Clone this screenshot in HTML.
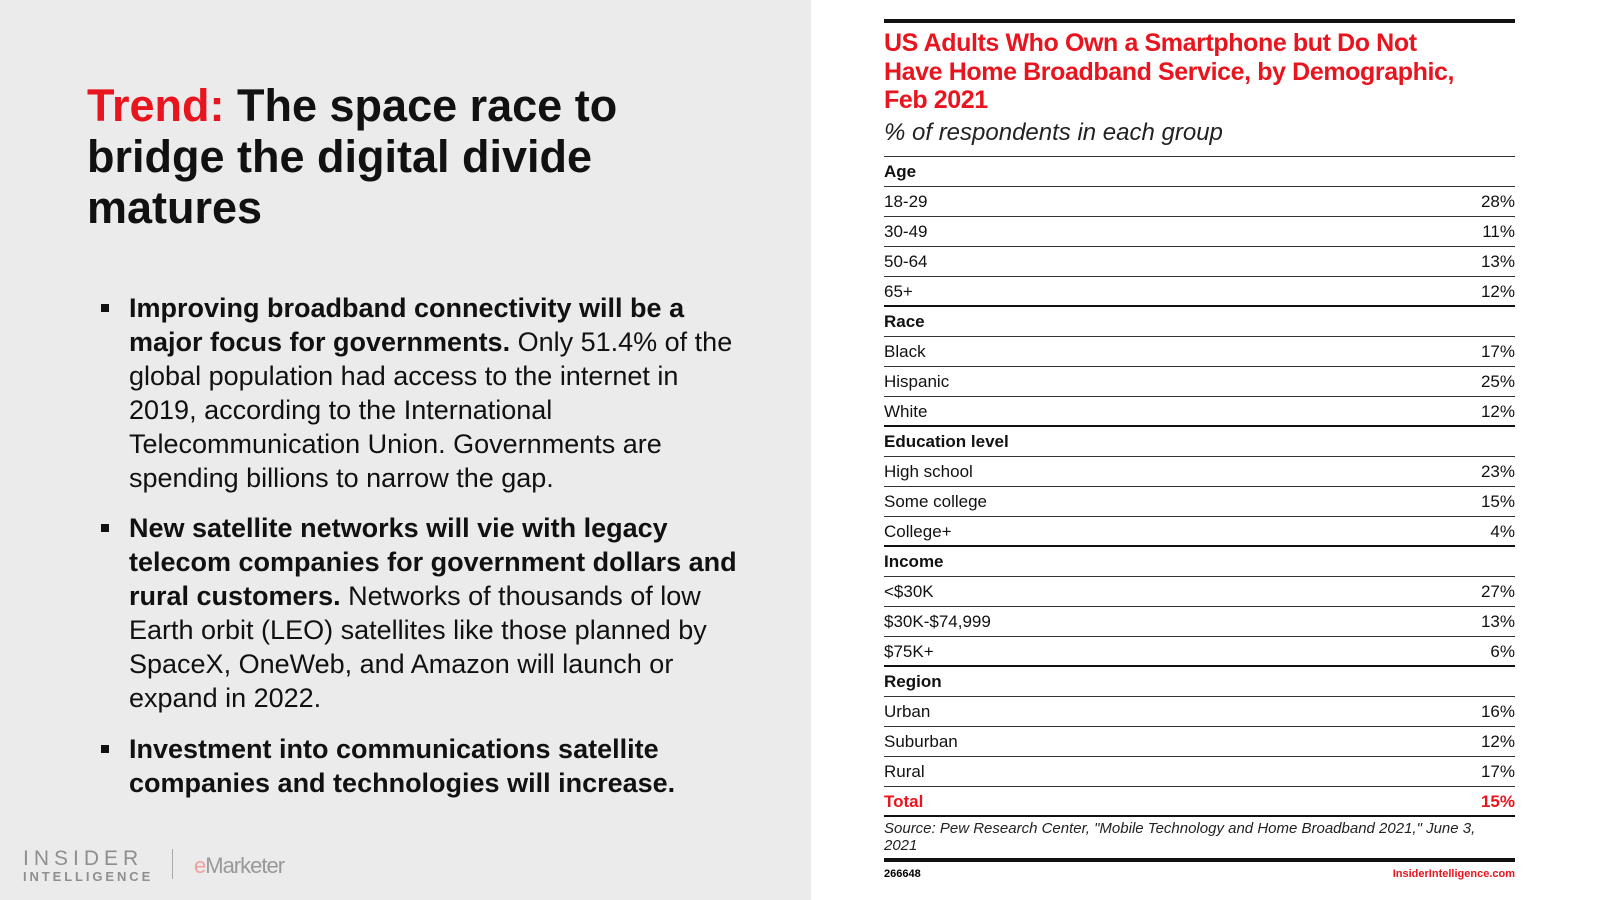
<!DOCTYPE html>
<html><head><meta charset="utf-8"><style>
*{margin:0;padding:0;box-sizing:border-box}
body{width:1600px;height:900px;position:relative;background:#fff;font-family:"Liberation Sans",sans-serif;overflow:hidden}
#left{position:absolute;left:0;top:0;width:811px;height:900px;background:#ebebeb}
h1{position:absolute;left:87px;top:80px;font-size:45px;line-height:51px;font-weight:bold;color:#111;width:650px}
h1 span{color:#e8141e}
.b{position:absolute;left:129px;width:700px;font-size:27px;line-height:34px;color:#111;white-space:nowrap}
.b:before{content:"";position:absolute;left:-28px;top:13px;width:8px;height:8px;background:#111}
.logo{position:absolute;left:23px;top:847px;color:#8f8f8f;font-size:21px;letter-spacing:5px}
.logo2{position:absolute;left:23px;top:869px;color:#8f8f8f;font-size:13px;letter-spacing:2.9px;font-weight:bold}
.sep{position:absolute;left:172px;top:849px;width:1px;height:30px;background:#aaa}
.em{position:absolute;left:194px;top:853px;font-size:22px;color:#999;letter-spacing:-1px}
.em b{color:#f0a0a0;font-weight:normal}
#tbl{position:absolute;left:884px;top:19px;width:631px}
.top{height:4px;background:#111}
.t{color:#e8141e;font-weight:bold;font-size:25px;line-height:28.5px;margin-top:6px;letter-spacing:-0.4px;white-space:nowrap}
.st{font-style:italic;font-size:24px;line-height:30px;color:#222;margin-top:3px;padding-bottom:8px;border-bottom:1px solid #333}
.r{height:30px;line-height:30px;font-size:17px;color:#111;display:flex;justify-content:space-between;border-bottom:1px solid #333}
.r.h{font-weight:bold}
.r.k{border-bottom:2px solid #111}
.r.tot{color:#e8141e;font-weight:bold;border-bottom:2px solid #111}
.src{font-style:italic;font-size:15px;line-height:17px;color:#222;padding:3px 30px 4px 0;border-bottom:4px solid #111}
.ft{display:flex;justify-content:space-between;font-size:11px;font-weight:bold;margin-top:6px}
.ft span+span{color:#e8141e}
</style></head><body>
<div id="left">
<h1><span>Trend:</span> The space race to bridge the digital divide matures</h1>
<div class="b" style="top:291px"><b>Improving broadband connectivity will be a<br>major focus for governments.</b> Only 51.4% of the<br>global population had access to the internet in<br>2019, according to the International<br>Telecommunication Union. Governments are<br>spending billions to narrow the gap.</div>
<div class="b" style="top:511px"><b>New satellite networks will vie with legacy<br>telecom companies for government dollars and<br>rural customers.</b> Networks of thousands of low<br>Earth orbit (LEO) satellites like those planned by<br>SpaceX, OneWeb, and Amazon will launch or<br>expand in 2022.</div>
<div class="b" style="top:732px"><b>Investment into communications satellite<br>companies and technologies will increase.</b></div>
<div class="logo">INSIDER</div>
<div class="logo2">INTELLIGENCE</div>
<div class="sep"></div>
<div class="em"><b>e</b>Marketer</div>
</div>
<div id="tbl">
<div class="top"></div>
<div class="t">US Adults Who Own a Smartphone but Do Not<br>Have Home Broadband Service, by Demographic,<br>Feb 2021</div>
<div class="st">% of respondents in each group</div>
<div class="r h"><span>Age</span></div>
<div class="r"><span>18-29</span><span>28%</span></div>
<div class="r"><span>30-49</span><span>11%</span></div>
<div class="r"><span>50-64</span><span>13%</span></div>
<div class="r k"><span>65+</span><span>12%</span></div>
<div class="r h"><span>Race</span></div>
<div class="r"><span>Black</span><span>17%</span></div>
<div class="r"><span>Hispanic</span><span>25%</span></div>
<div class="r k"><span>White</span><span>12%</span></div>
<div class="r h"><span>Education level</span></div>
<div class="r"><span>High school</span><span>23%</span></div>
<div class="r"><span>Some college</span><span>15%</span></div>
<div class="r k"><span>College+</span><span>4%</span></div>
<div class="r h"><span>Income</span></div>
<div class="r"><span>&lt;$30K</span><span>27%</span></div>
<div class="r"><span>$30K-$74,999</span><span>13%</span></div>
<div class="r k"><span>$75K+</span><span>6%</span></div>
<div class="r h"><span>Region</span></div>
<div class="r"><span>Urban</span><span>16%</span></div>
<div class="r"><span>Suburban</span><span>12%</span></div>
<div class="r"><span>Rural</span><span>17%</span></div>
<div class="r tot"><span>Total</span><span>15%</span></div>
<div class="src">Source: Pew Research Center, "Mobile Technology and Home Broadband 2021," June 3, 2021</div>
<div class="ft"><span>266648</span><span>InsiderIntelligence.com</span></div>
</div>
</body></html>
